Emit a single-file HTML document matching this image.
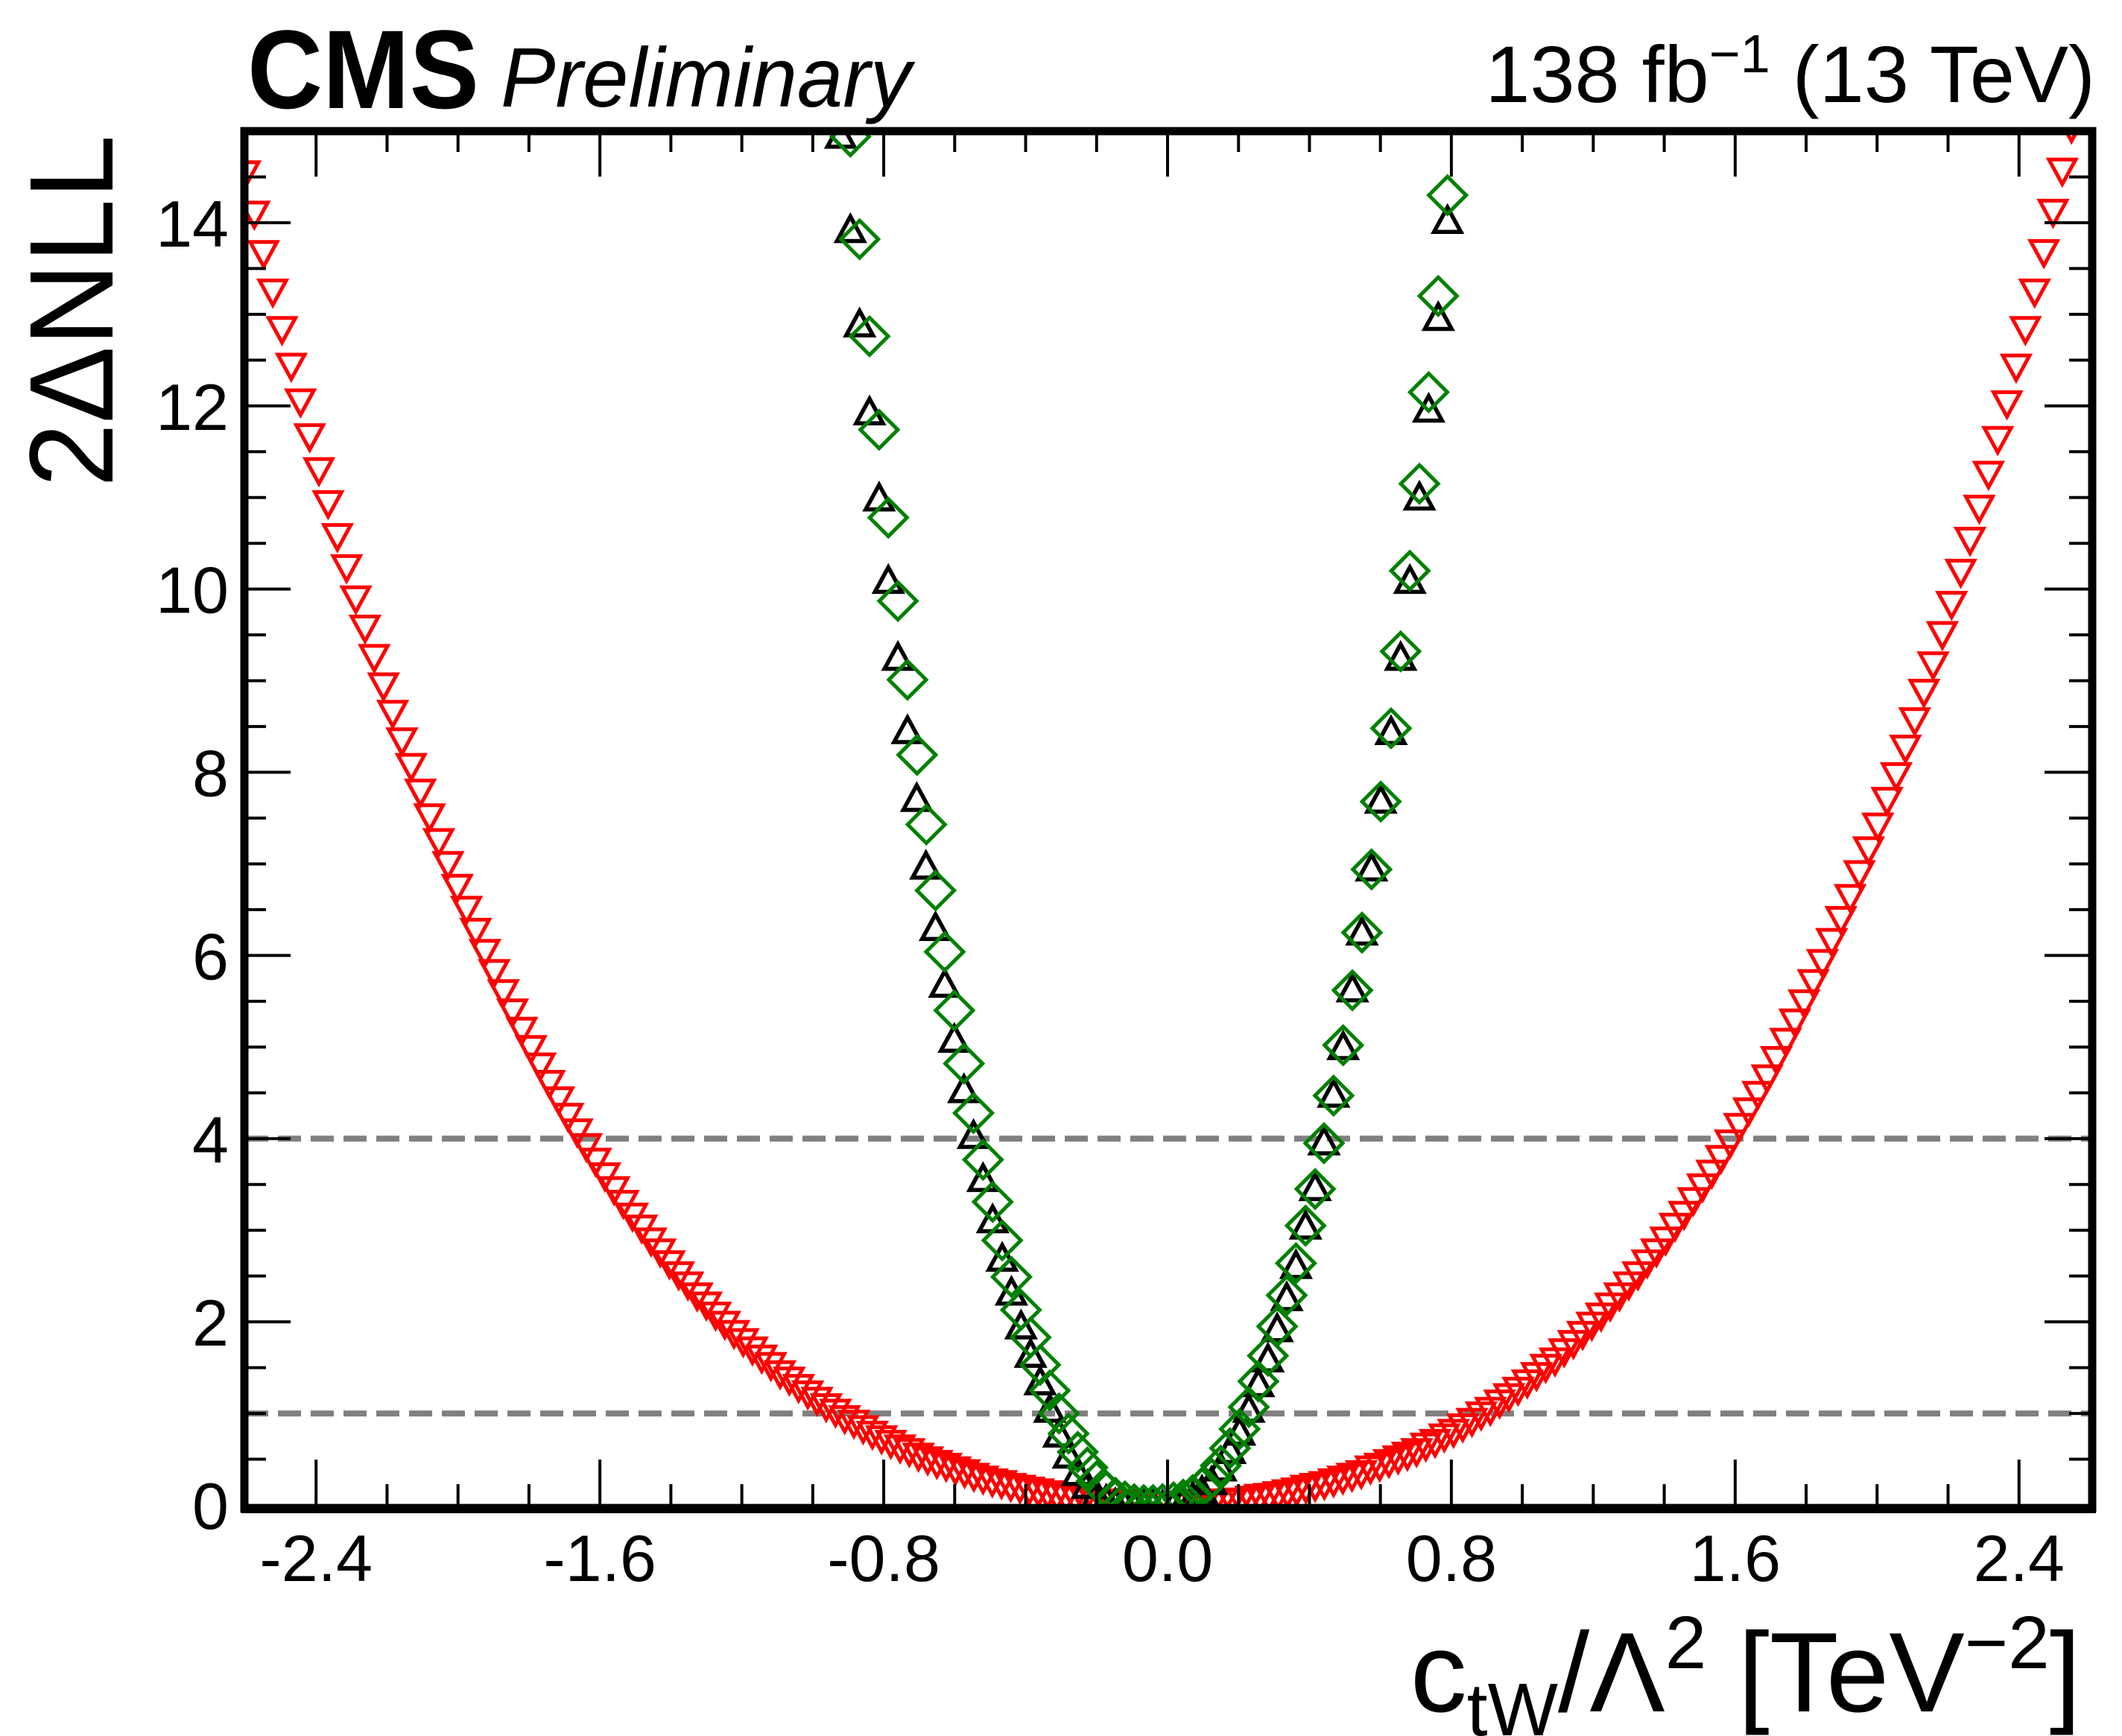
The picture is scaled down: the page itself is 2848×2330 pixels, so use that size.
<!DOCTYPE html>
<html><head><meta charset="utf-8"><title>2ΔNLL scan of c_tW</title>
<style>
html,body{margin:0;padding:0;background:#fff;}
svg{display:block;font-family:"Liberation Sans",Arial,sans-serif;}
</style></head>
<body>
<svg id="chart" width="2848" height="2330" viewBox="0 0 2848 2330" xmlns="http://www.w3.org/2000/svg">
  <rect x="0" y="0" width="2848" height="2330" fill="#fff"/>
  <defs><clipPath id="plotclip"><rect x="329" y="176" width="2476" height="1844"/></clipPath></defs>
  <g id="grid-lines"></g>
  <g id="marks" clip-path="url(#plotclip)"></g>
  <g id="axes"></g>
  <text x="332" y="145" font-size="150" font-weight="bold" textLength="311" lengthAdjust="spacingAndGlyphs">CMS</text>
  <text x="672" y="143" font-size="113" font-style="italic" textLength="551" lengthAdjust="spacingAndGlyphs">Preliminary</text>
  <text x="2812" y="137" font-size="108" text-anchor="end">138 fb<tspan font-size="72" dy="-40">−1</tspan><tspan dy="40"> (13 TeV)</tspan></text>
  <text transform="translate(151,181) rotate(-90)" font-size="160" text-anchor="end" textLength="473" lengthAdjust="spacingAndGlyphs">2ΔNLL</text>
  <text x="2793" y="2297" font-size="152" text-anchor="end">c<tspan font-size="100" dy="32">tW</tspan><tspan dy="-32">/Λ</tspan><tspan font-size="100" dy="-58">2</tspan><tspan dy="58"> [TeV</tspan><tspan font-size="100" dy="-58">−2</tspan><tspan dy="58">]</tspan></text>
</svg>
<script>
// ---- data ----
const xTicks = [-2.4, -1.6, -0.8, 0.0, 0.8, 1.6, 2.4];
const xTickLabels = ["-2.4", "-1.6", "-0.8", "0.0", "0.8", "1.6", "2.4"];
const yTicks = [0, 2, 4, 6, 8, 10, 12, 14];
const yTickLabels = ["0", "2", "4", "6", "8", "10", "12", "14"];
const refLevels = [1, 4];
const redXStart = -2.6;
const redXStep = 0.026;
const redY = [14.53,14.09,13.66,13.24,12.83,12.43,12.04,11.66,11.29,10.93,10.57,10.23,9.89,9.57,9.25,8.94,8.64,8.34,8.06,7.78,7.51,7.24,6.99,6.74,6.50,6.26,6.03,5.81,5.59,5.38,5.18,4.98,4.79,4.60,4.42,4.24,4.07,3.91,3.75,3.59,3.44,3.29,3.15,3.02,2.88,2.76,2.63,2.51,2.40,2.28,2.18,2.07,1.97,1.87,1.78,1.69,1.60,1.52,1.43,1.36,1.28,1.21,1.14,1.07,1.01,0.94,0.89,0.83,0.77,0.72,0.67,0.62,0.58,0.53,0.49,0.45,0.42,0.38,0.35,0.31,0.28,0.25,0.23,0.20,0.18,0.16,0.14,0.12,0.10,0.08,0.07,0.05,0.04,0.03,0.02,0.02,0.01,0.01,0.00,0.00,
0.00,
0.00,0.00,0.01,0.01,0.02,0.03,0.03,0.04,0.06,0.08,0.09,0.11,0.13,0.15,0.18,0.20,0.22,0.25,0.28,0.31,0.34,0.39,0.42,0.46,0.50,0.54,0.58,0.64,0.68,0.74,0.79,0.85,0.91,0.98,1.03,1.11,1.18,1.25,1.33,1.41,1.50,1.57,1.67,1.76,1.86,1.96,2.06,2.17,2.28,2.40,2.51,2.64,2.76,2.89,3.04,3.17,3.32,3.47,3.62,3.78,3.95,4.13,4.30,4.48,4.66,4.86,5.06,5.27,5.48,5.70,5.92,6.15,6.39,6.63,6.89,7.15,7.41,7.69,7.96,8.26,8.56,8.87,9.17,9.50,9.83,10.18,10.53,10.88,11.25,11.63,12.02,12.42,12.83,13.24,13.67,14.11,14.56,15.03,15.50,15.98];
const blackX = [-0.921,-0.894,-0.868,-0.840,-0.813,-0.787,-0.760,-0.733,-0.707,-0.681,-0.654,-0.628,-0.601,-0.574,-0.547,-0.520,-0.493,-0.466,-0.440,-0.413,-0.386,-0.359,-0.332,-0.306,-0.279,-0.253,-0.226,-0.200,-0.173,-0.147,-0.120,-0.094,-0.067,-0.041,-0.014,0.017,0.044,0.071,0.097,0.124,0.150,0.176,0.203,0.229,0.256,0.283,0.309,0.336,0.362,0.389,0.416,0.441,0.468,0.495,0.521,0.548,0.575,0.601,0.630,0.657,0.683,0.710,0.736,0.763,0.789];
const blackY = [14.96,13.93,12.90,11.94,11.00,10.10,9.26,8.46,7.72,6.98,6.31,5.69,5.09,4.54,4.04,3.57,3.12,2.70,2.33,1.96,1.65,1.35,1.05,0.78,0.55,0.36,0.22,0.12,0.06,0.02,0.00,0.00,0.00,0.00,0.00,0.01,0.04,0.09,0.16,0.26,0.41,0.60,0.80,1.05,1.33,1.60,1.93,2.27,2.62,3.05,3.47,3.97,4.49,5.01,5.64,6.26,6.96,7.70,8.45,9.26,10.10,11.01,11.97,12.97,14.03];
const greenX = [-0.894,-0.868,-0.840,-0.813,-0.787,-0.760,-0.733,-0.706,-0.680,-0.654,-0.628,-0.601,-0.574,-0.547,-0.520,-0.493,-0.466,-0.440,-0.413,-0.386,-0.359,-0.332,-0.306,-0.279,-0.253,-0.226,-0.200,-0.173,-0.147,-0.120,-0.094,-0.067,-0.041,-0.014,0.017,0.044,0.071,0.097,0.124,0.150,0.176,0.203,0.229,0.256,0.283,0.309,0.336,0.362,0.389,0.416,0.441,0.468,0.495,0.521,0.548,0.575,0.601,0.630,0.657,0.683,0.710,0.736,0.763,0.789];
const greenY = [14.94,13.82,12.76,11.74,10.78,9.87,9.01,8.19,7.43,6.71,6.04,5.40,4.82,4.28,3.77,3.31,2.89,2.49,2.13,1.83,1.53,1.25,1.00,0.78,0.58,0.41,0.26,0.15,0.08,0.04,0.01,0.00,0.00,0.01,0.03,0.06,0.11,0.19,0.29,0.43,0.62,0.83,1.07,1.35,1.63,1.95,2.29,2.64,3.05,3.45,3.95,4.47,5.02,5.62,6.25,6.94,7.68,8.48,9.32,10.20,11.15,12.15,13.20,14.30];

// ---- axes mapping ----
const X0 = 329, X1 = 2805, Y0 = 2020, Y1 = 176;
const XMIN = -2.6, XMAX = 2.6, YMIN = 0, YMAX = 15;
function sx(v){ return X0 + (v - XMIN) / (XMAX - XMIN) * (X1 - X0); }
function sy(v){ return Y0 - (v - YMIN) / (YMAX - YMIN) * (Y0 - Y1); }
const NS = "http://www.w3.org/2000/svg";
function mk(tag, attrs, parent){
  const e = document.createElementNS(NS, tag);
  for (const k in attrs) e.setAttribute(k, attrs[k]);
  parent.appendChild(e);
  return e;
}
const axes = document.getElementById('axes');
const marks = document.getElementById('marks');
const refs = document.getElementById('grid-lines');

refLevels.forEach(function(v){
  const l = mk('line', {x1: X0, x2: X1, y1: sy(v), y2: sy(v), stroke: '#808080', 'stroke-width': 8, 'stroke-dasharray': '31 13'}, refs);
  
  
});

for (let i = 0; i < redY.length; i++) {
  const cx = sx(redXStart + i * redXStep), cy = sy(redY[i]);
  const p = mk('polygon', {points: (cx-18)+','+(cy-16)+' '+(cx+18)+','+(cy-16)+' '+cx+','+(cy+17), fill: 'none', stroke: '#ff0000', 'stroke-width': 5}, marks);
  
  
}
for (let i = 0; i < blackY.length; i++) {
  const cx = sx(blackX[i]), cy = sy(blackY[i]);
  const p = mk('polygon', {points: (cx-18)+','+(cy+16)+' '+(cx+18)+','+(cy+16)+' '+cx+','+(cy-17), fill: 'none', stroke: '#000', 'stroke-width': 5.5}, marks);
  
  
}
for (let i = 0; i < greenY.length; i++) {
  const cx = sx(greenX[i]), cy = sy(greenY[i]);
  const p = mk('polygon', {points: cx+','+(cy-25)+' '+(cx+25)+','+cy+' '+cx+','+(cy+25)+' '+(cx-25)+','+cy, fill: 'none', stroke: '#008000', 'stroke-width': 5}, marks);
  
  
}

for (let t = -2.6; t <= 2.6001; t += 0.2) {
  const v = Math.round(t * 10) / 10;
  const major = Math.abs(Math.round(v * 10) % 8) === 0;
  const len = major ? 61 : 28;
  const x = sx(v);
  if (x < X0 + 2 || x > X1 - 2) continue;
  const a = mk('line', {x1: x, x2: x, y1: Y0, y2: Y0 - len, stroke: '#000', 'stroke-width': 4}, axes);
  
  
  const b = mk('line', {x1: x, x2: x, y1: Y1, y2: Y1 + len, stroke: '#000', 'stroke-width': 4}, axes);
  
  
}
for (let k = 1; k < 30; k++) {
  const v = k * 0.5;
  const major = (k % 4 === 0);
  const len = major ? 61 : 28;
  const y = sy(v);
  const a = mk('line', {x1: X0, x2: X0 + len, y1: y, y2: y, stroke: '#000', 'stroke-width': 4}, axes);
  
  
  const b = mk('line', {x1: X1, x2: X1 - len, y1: y, y2: y, stroke: '#000', 'stroke-width': 4}, axes);
  
  
}
xTicks.forEach(function(v, i){
  const t = mk('text', {x: sx(v), y: 2122, 'font-size': 88, 'text-anchor': 'middle'}, axes);
  t.textContent = xTickLabels[i];
  
  
});
yTicks.forEach(function(v, i){
  const t = mk('text', {x: 307, y: sy(v) + 32, 'font-size': 88, 'text-anchor': 'end'}, axes);
  t.textContent = yTickLabels[i];
  
  
});
const fr = mk('rect', {x: 328, y: 176, width: 2480, height: 1848, fill: 'none', stroke: '#000', 'stroke-width': 11}, axes);


const bl = mk('line', {x1: 323, x2: 2813, y1: 2025, y2: 2025, stroke: '#000', 'stroke-width': 12}, axes);


</script>
</body></html>
